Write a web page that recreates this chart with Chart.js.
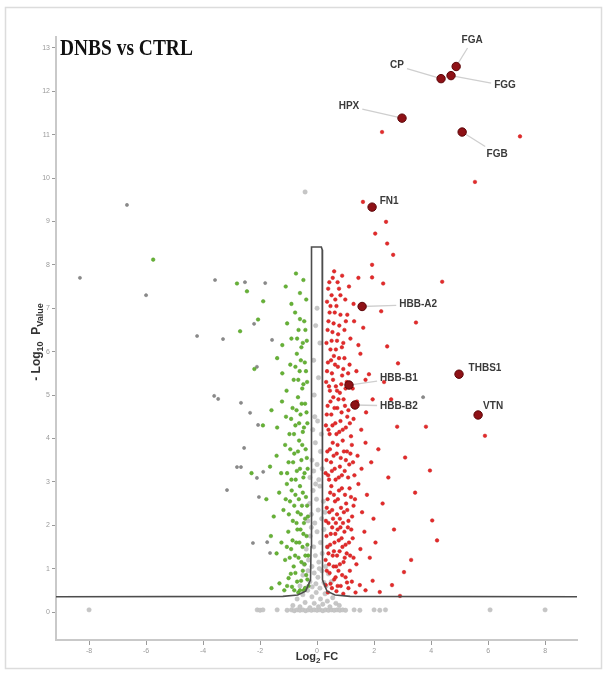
<!DOCTYPE html>
<html>
<head>
<meta charset="utf-8">
<script src="https://cdn.jsdelivr.net/npm/chart.js@4.4.1/dist/chart.umd.min.js"></script>
<style>
html,body{margin:0;padding:0;background:#fff;}
canvas{display:block;}
</style>
</head>
<body>
<canvas id="c" width="609" height="675"></canvas>
<script>
// ---------------- DATA ----------------
const chartTitle = 'DNBS vs CTRL';
const xTicks = [-8, -6, -4, -2, 0, 2, 4, 6, 8];
const yTicks = [0, 1, 2, 3, 4, 5, 6, 7, 8, 9, 10, 11, 12, 13];

// significance threshold curve (log2FC, -log10 p)
const thresholdCurve = [
  [-9.16,0.35],[-1.2,0.36],[-0.68,0.39],[-0.4,0.48],[-0.23,0.74],[-0.21,1.5],[-0.21,8.35],[-0.18,8.41],
  [0.15,8.41],[0.18,8.35],[0.18,1.5],[0.2,0.74],[0.35,0.48],[0.63,0.39],[1.16,0.36],[9.12,0.35]
];

// highlighted proteins
const labeledGenes = ['FGA','FGG','CP','HPX','FGB','FN1','HBB-A2','THBS1','HBB-B1','HBB-B2','VTN'];
const labeledX = [4.88, 4.70, 4.35, 2.98, 5.09, 1.93, 1.58, 4.98, 1.12, 1.33, 5.65];
const labeledY = [12.57, 12.36, 12.29, 11.38, 11.06, 9.33, 7.04, 5.48, 5.23, 4.77, 4.54];

// up-regulated (red)
const upPoints = [
 [0.30,0.62],[0.38,0.45],[0.44,0.9],[0.52,0.55],[0.6,0.75],[0.68,0.48],[0.75,0.95],[0.83,0.6],[0.92,0.42],[1.0,0.8],[1.1,0.55],[1.22,0.7],[1.35,0.45],[1.5,0.62],[1.7,0.5],[1.95,0.72],[2.2,0.46],
 [0.3,1.2],[0.36,1.5],[0.42,1.1],[0.48,1.8],[0.55,1.3],[0.61,1.6],[0.67,1.05],[0.72,1.9],[0.79,1.4],[0.86,1.7],[0.93,1.15],[1.0,1.55],[1.08,1.95],[1.16,1.3],[1.25,1.7],[1.38,1.1],[1.52,1.45],[1.66,1.85],[1.85,1.25],[2.05,1.6],
 [0.31,2.1],[0.37,2.6],[0.43,2.3],[0.5,2.9],[0.56,2.15],[0.63,2.55],[0.7,2.25],[0.77,2.8],[0.84,2.4],[0.91,2.05],[0.98,2.7],[1.06,2.35],[1.14,2.85],[1.23,2.2],[1.33,2.6],[1.45,2.95],[1.58,2.3],[1.75,2.7],[1.98,2.15],[2.3,2.5],
 [0.3,3.2],[0.36,3.7],[0.42,3.05],[0.49,3.45],[0.55,3.9],[0.62,3.3],[0.69,3.65],[0.76,3.1],[0.83,3.55],[0.9,3.95],[0.97,3.25],[1.05,3.7],[1.13,3.4],[1.22,3.85],[1.31,3.15],[1.42,3.6],[1.56,3.3],[1.7,3.9],[1.9,3.45],[2.15,3.75],
 [0.31,4.3],[0.37,4.75],[0.44,4.1],[0.5,4.55],[0.57,4.95],[0.64,4.35],[0.71,4.7],[0.78,4.15],[0.86,4.6],[0.93,4.9],[1.01,4.25],[1.1,4.65],[1.19,4.05],[1.28,4.45],[1.4,4.85],[1.55,4.2],[1.72,4.6],[1.95,4.9],
 [0.32,5.3],[0.38,5.75],[0.45,5.1],[0.52,5.5],[0.59,5.9],[0.66,5.2],[0.73,5.65],[0.8,5.05],[0.88,5.45],[0.96,5.85],[1.04,5.3],[1.14,5.7],[1.25,5.15],[1.38,5.55],[1.52,5.95],[1.7,5.35],
 [0.33,6.2],[0.4,6.7],[0.47,6.05],[0.54,6.45],[0.62,6.9],[0.7,6.25],[0.78,6.6],[0.87,6.1],[0.96,6.5],[1.06,6.85],[1.17,6.3],[1.3,6.7],[1.45,6.15],[1.62,6.55],
 [0.35,7.15],[0.43,7.6],[0.51,7.3],[0.6,7.85],[0.68,7.05],[0.77,7.45],[0.88,7.75],[0.99,7.2],[1.12,7.5],[1.28,7.1],[1.45,7.7],
 [0.34,0.95],[0.47,0.65],[0.58,1.05],[0.65,0.8],[0.72,0.6],[0.8,1.1],[0.88,0.85],[0.97,1.25],[1.05,0.68],[1.15,0.95],[1.28,1.25],
 [0.33,1.75],[0.4,1.35],[0.46,1.55],[0.53,1.95],[0.59,1.4],[0.64,1.8],[0.7,1.3],[0.76,1.65],[0.82,1.95],[0.89,1.5],[0.96,1.85],[1.04,1.35],[1.12,1.6],[1.2,1.9],
 [0.34,2.4],[0.4,2.05],[0.46,2.75],[0.53,2.35],[0.59,2.7],[0.66,2.05],[0.73,2.6],[0.8,2.15],[0.87,2.85],[0.94,2.3],[1.02,2.5],[1.1,2.1],[1.19,2.65],[1.28,2.45],
 [0.33,3.5],[0.39,3.15],[0.45,3.75],[0.52,3.25],[0.58,3.6],[0.65,3.05],[0.72,3.85],[0.8,3.35],[0.87,3.15],[0.94,3.7],[1.01,3.5],[1.09,3.1],[1.17,3.65],[1.26,3.45],
 [0.34,4.55],[0.4,4.2],[0.47,4.85],[0.54,4.3],[0.61,4.7],[0.68,4.1],[0.75,4.9],[0.82,4.4],[0.9,4.2],[0.98,4.75],[1.06,4.5],[1.15,4.35],
 [0.35,5.55],[0.42,5.2],[0.49,5.8],[0.56,5.35],[0.63,5.7],[0.7,5.1],[0.77,5.85],[0.85,5.25],[0.92,5.6],[1.0,5.15],[1.09,5.5],
 [0.37,6.5],[0.44,6.9],[0.51,6.25],[0.58,6.65],[0.66,6.05],[0.74,6.4],[0.82,6.85],[0.92,6.2],[1.01,6.7],
 [0.39,7.45],[0.47,7.05],[0.55,7.7],[0.64,7.2],[0.72,7.6],[0.82,7.3],
 [2.28,11.06],[7.12,10.96],[5.54,9.91],[1.61,9.45],[2.42,8.99],[2.04,8.72],[2.46,8.49],[2.67,8.23],[1.93,8.0],[1.93,7.71],[2.32,7.57],[4.39,7.61],
 [3.47,6.67],[2.46,6.12],[2.84,5.73],[1.82,5.48],[2.81,4.27],[3.82,4.27],[3.09,3.56],[3.96,3.26],[3.44,2.75],[4.04,2.11],[4.21,1.65],
 [3.05,0.92],[2.63,0.62],[2.91,0.37],[5.89,4.06],[2.25,6.93],[2.6,4.9],[2.5,3.1],[2.7,1.9],[3.3,1.2],[2.35,5.3]
];

// down-regulated (green)
const downPoints = [
 [-0.3,0.6],[-0.38,0.85],[-0.47,0.5],[-0.56,0.72],[-0.66,0.45],[-0.76,0.9],[-0.88,0.58],[-1.0,0.78],[-1.15,0.5],[-1.32,0.66],[-1.6,0.55],
 [-0.31,1.3],[-0.37,1.75],[-0.44,1.1],[-0.51,1.5],[-0.58,1.9],[-0.65,1.25],[-0.73,1.6],[-0.82,1.05],[-0.91,1.45],[-1.01,1.85],[-1.12,1.2],[-1.25,1.6],[-1.42,1.35],[-1.62,1.75],
 [-0.32,2.2],[-0.39,2.65],[-0.46,2.05],[-0.53,2.45],[-0.6,2.9],[-0.68,2.3],[-0.76,2.7],[-0.85,2.1],[-0.95,2.55],[-1.06,2.95],[-1.18,2.35],[-1.33,2.75],[-1.52,2.2],[-1.78,2.6],
 [-0.33,3.3],[-0.4,3.75],[-0.48,3.1],[-0.55,3.5],[-0.63,3.95],[-0.71,3.25],[-0.8,3.65],[-0.9,3.05],[-1.0,3.45],[-1.12,3.85],[-1.26,3.2],[-1.42,3.6],[-1.65,3.35],
 [-0.34,4.35],[-0.42,4.8],[-0.5,4.15],[-0.58,4.55],[-0.67,4.95],[-0.76,4.3],[-0.86,4.7],[-0.97,4.1],[-1.09,4.5],[-1.23,4.85],[-1.4,4.25],[-1.6,4.65],
 [-0.35,5.3],[-0.43,5.75],[-0.52,5.15],[-0.61,5.55],[-0.71,5.95],[-0.82,5.35],[-0.94,5.7],[-1.07,5.1],[-1.22,5.5],[-1.4,5.85],
 [-0.36,6.25],[-0.45,6.7],[-0.55,6.1],[-0.65,6.5],[-0.77,6.9],[-0.9,6.3],[-1.05,6.65],[-1.22,6.15],
 [-0.38,7.2],[-0.48,7.65],[-0.6,7.35],[-0.74,7.8],[-0.9,7.1],[-1.1,7.5],
 [-0.34,0.75],[-0.42,0.55],[-0.5,0.95],[-0.6,0.5],[-0.7,0.7],[-0.8,0.5],[-0.92,0.88],[-1.05,0.6],
 [-0.34,1.55],[-0.41,1.3],[-0.48,1.8],[-0.55,1.15],[-0.62,1.6],[-0.69,1.9],[-0.77,1.3],[-0.86,1.65],[-0.96,1.25],[-1.06,1.5],
 [-0.35,2.45],[-0.42,2.15],[-0.5,2.75],[-0.57,2.25],[-0.64,2.6],[-0.72,2.05],[-0.8,2.45],[-0.89,2.8],[-0.99,2.25],[-1.1,2.6],
 [-0.36,3.55],[-0.44,3.2],[-0.52,3.85],[-0.6,3.3],[-0.67,3.7],[-0.75,3.05],[-0.84,3.45],[-0.94,3.75],[-1.05,3.2],
 [-0.37,4.6],[-0.46,4.25],[-0.54,4.8],[-0.63,4.35],[-0.72,4.65],[-0.81,4.1],[-0.91,4.45],
 [-0.39,5.55],[-0.48,5.25],[-0.57,5.8],[-0.66,5.35],[-0.76,5.65],
 [-0.41,6.5],[-0.5,6.2],[-0.6,6.75],[-0.7,6.3],
 [-5.75,8.12],[-2.81,7.57],[-2.46,7.39],[-1.89,7.16],[-2.07,6.74],[-2.7,6.47],[-2.2,5.6],[-1.9,4.3],[-2.3,3.2]
];

// scattered non-coloured outliers (dark grey)
const otherPoints = [
 [-2.53,7.60],[-1.82,7.58],[-2.21,6.64],[-1.58,6.27],[-3.30,6.29],[-2.11,5.65],[-2.67,4.82],[-2.35,4.59],[-2.07,4.31],[-2.56,3.78],
 [-2.81,3.34],[-2.67,3.34],[-1.89,3.23],[-2.11,3.09],[-3.16,2.81],[-2.04,2.65],[-2.25,1.59],[-1.75,1.61],[-1.65,1.36],
 [-6.67,9.38],[-8.32,7.70],[-6.0,7.30],[-3.58,7.65],[-4.21,6.36],[-3.47,4.91],[-3.61,4.98],[3.72,4.95]
];

// non-significant cloud (light grey)
const nsPoints = [
 [-8.0,0.05],[-2.1,0.05],[-2.0,0.04],[-1.9,0.05],[-1.4,0.05],[-1.05,0.04],[-0.9,0.05],[-0.8,0.03],[-0.7,0.05],[-0.6,0.04],[-0.5,0.05],[-0.4,0.03],[-0.3,0.05],[-0.2,0.04],[-0.1,0.05],[0,0.04],[0.1,0.05],[0.2,0.03],[0.3,0.05],[0.4,0.04],[0.5,0.05],[0.6,0.04],[0.7,0.05],[0.8,0.04],[0.9,0.05],[1.0,0.04],[1.3,0.05],[1.5,0.04],[2.0,0.05],[2.2,0.04],[2.4,0.05],[6.07,0.05],[8.0,0.05],
 [-0.85,0.15],[-0.7,0.3],[-0.6,0.12],[-0.5,0.4],[-0.42,0.22],[-0.33,0.5],[-0.25,0.1],[-0.18,0.35],[-0.1,0.2],[-0.03,0.45],[0.05,0.12],[0.12,0.3],[0.2,0.18],[0.28,0.42],[0.36,0.25],[0.45,0.12],[0.55,0.33],[0.66,0.2],[0.78,0.15],
 [-0.6,0.6],[-0.5,0.85],[-0.4,0.55],[-0.32,0.95],[-0.25,0.7],[-0.17,0.58],[-0.1,0.9],[-0.04,0.65],[0.03,0.8],[0.1,0.55],[0.17,0.95],[0.24,0.68],[0.32,0.6],[0.4,0.88],[0.5,0.7],
 [-0.45,1.1],[-0.38,1.45],[-0.3,1.2],[-0.24,1.75],[-0.18,1.05],[-0.12,1.5],[-0.06,1.3],[0.0,1.85],[0.06,1.15],[0.12,1.6],[0.18,1.35],[0.24,1.9],[0.3,1.05],[0.36,1.5],[-0.2,1.95],[0.08,1.0],
 [-0.32,2.1],[-0.26,2.5],[-0.2,2.25],[-0.14,2.8],[-0.08,2.05],[-0.02,2.6],[0.04,2.35],[0.1,2.9],[0.16,2.15],[0.22,2.55],[0.28,2.3],[-0.05,2.95],
 [-0.25,3.1],[-0.18,3.5],[-0.12,3.25],[-0.06,3.9],[0.0,3.4],[0.06,3.05],[0.12,3.7],[0.18,3.3],[-0.15,4.2],[0.02,4.4],[0.15,4.1],[-0.08,4.5],
 [-0.1,5.0],[0.05,5.4],[-0.12,5.8],[0.1,6.2],[-0.05,6.6],[0.0,7.0],
 [-0.42,9.68]
];

// ---------------- STYLE ----------------
// label text offsets from their point, in pixels [dx, dy]
const labelOffsets = [[16,-26],[54,10],[-44,-13],[-53,-12],[35,22],[17,-6],[56,-2],[26,-6],[50,-7],[44,1],[15,-9]];

const toXY = arr => arr.map(p => ({x: p[0], y: p[1]}));

const framePlugin = {
  id: 'frame',
  beforeDraw(chart) {
    const ctx = chart.ctx;
    ctx.save();
    ctx.fillStyle = '#fff';
    ctx.fillRect(0, 0, chart.width, chart.height);
    ctx.strokeStyle = '#dcdcdc';
    ctx.lineWidth = 1.5;
    ctx.strokeRect(5.5, 7.5, 596, 661);
    ctx.restore();
  }
};

function textBoxEnd(px, py, cx, cy, w, h) {
  const dx = cx - px, dy = cy - py;
  const rx = Math.abs(dx) > 0.001 ? (w / 2 + 3) / Math.abs(dx) : Infinity;
  const ry = Math.abs(dy) > 0.001 ? (h / 2 + 3) / Math.abs(dy) : Infinity;
  const s = Math.max(0, 1 - Math.min(rx, ry));
  return [px + dx * s, py + dy * s, Math.hypot(dx * s, dy * s)];
}

const labelPlugin = {
  id: 'geneLabels',
  beforeDatasetsDraw(chart) {
    const meta = chart.getDatasetMeta(1);
    const ctx = chart.ctx;
    ctx.save();
    ctx.font = 'bold 10px "Liberation Sans", Arial, sans-serif';
    ctx.strokeStyle = '#cfcfcf';
    ctx.lineWidth = 1.3;
    meta.data.forEach((el, i) => {
      const off = labelOffsets[i];
      const cx = el.x + off[0], cy = el.y + off[1];
      const w = ctx.measureText(labeledGenes[i]).width;
      const [ex, ey, len] = textBoxEnd(el.x, el.y, cx, cy, w, 9);
      if (len > 8) {
        ctx.beginPath();
        ctx.moveTo(el.x, el.y);
        ctx.lineTo(ex, ey);
        ctx.stroke();
      }
    });
    ctx.restore();
  },
  afterDatasetsDraw(chart) {
    const meta = chart.getDatasetMeta(1);
    const ctx = chart.ctx;
    ctx.save();
    ctx.font = 'bold 10px "Liberation Sans", Arial, sans-serif';
    ctx.fillStyle = '#3a3a3a';
    ctx.textAlign = 'center';
    ctx.textBaseline = 'middle';
    meta.data.forEach((el, i) => {
      const off = labelOffsets[i];
      ctx.fillText(labeledGenes[i], el.x + off[0], el.y + off[1]);
    });
    ctx.restore();
  }
};

function drawRich(ctx, parts, big, small, color) {
  let total = 0;
  parts.forEach(p => { ctx.font = 'bold ' + (p.sub ? small : big) + 'px "Liberation Sans", Arial, sans-serif'; p.w = ctx.measureText(p.t).width; total += p.w; });
  let x = -total / 2;
  ctx.fillStyle = color;
  ctx.textBaseline = 'alphabetic';
  ctx.textAlign = 'left';
  parts.forEach(p => {
    ctx.font = 'bold ' + (p.sub ? small : big) + 'px "Liberation Sans", Arial, sans-serif';
    ctx.fillText(p.t, x, p.sub ? 3 : 0);
    x += p.w;
  });
}

const textPlugin = {
  id: 'texts',
  afterDraw(chart) {
    const ctx = chart.ctx;
    // title
    ctx.save();
    ctx.translate(60, 55);
    ctx.scale(0.81, 1);
    ctx.font = 'bold 24px "Liberation Serif", "DejaVu Serif", serif';
    ctx.fillStyle = '#111';
    ctx.textBaseline = 'alphabetic';
    ctx.fillText(chartTitle, 0, 0);
    ctx.restore();
    // y axis title
    ctx.save();
    ctx.translate(40, 342);
    ctx.rotate(-Math.PI / 2);
    drawRich(ctx, [{t:'- Log'},{t:'10',sub:true},{t:'  P'},{t:'Value',sub:true}], 12, 9, '#333');
    ctx.restore();
    // x axis title
    ctx.save();
    ctx.translate(317, 660);
    drawRich(ctx, [{t:'Log'},{t:'2',sub:true},{t:' FC'}], 11, 8, '#333');
    ctx.restore();
  }
};

new Chart(document.getElementById('c'), {
  type: 'scatter',
  data: {
    datasets: [
      { label: 'threshold', data: toXY(thresholdCurve), showLine: true, borderColor: '#4d4d4d', borderWidth: 1.6, pointRadius: 0, fill: false, tension: 0, order: 0 },
      { label: 'highlighted', data: labeledX.map((x, i) => ({x, y: labeledY[i]})), backgroundColor: '#8e1116', borderColor: '#5c0508', borderWidth: 1, pointRadius: 4.2, order: 1 },
      { label: 'up', data: toXY(upPoints), backgroundColor: '#e42a2a', borderColor: '#c81a1a', borderWidth: 0.5, pointRadius: 1.8, order: 2 },
      { label: 'down', data: toXY(downPoints), backgroundColor: '#67b236', borderColor: '#4f9a22', borderWidth: 0.5, pointRadius: 1.8, order: 3 },
      { label: 'other', data: toXY(otherPoints), backgroundColor: '#8a8a8a', borderColor: '#7a7a7a', borderWidth: 0.5, pointRadius: 1.6, order: 4 },
      { label: 'ns', data: toXY(nsPoints), backgroundColor: '#c6c6c6', borderColor: '#bdbdbd', borderWidth: 0.5, pointRadius: 2.2, order: 5 }
    ]
  },
  options: {
    responsive: false,
    animation: false,
    events: [],
    layout: { padding: { left: 0, right: 32, top: 37, bottom: 0 }, autoPadding: false },
    plugins: { legend: { display: false }, tooltip: { enabled: false }, title: { display: false } },
    scales: {
      x: {
        type: 'linear', min: -9.16, max: 9.12,
        afterBuildTicks: s => { s.ticks = xTicks.map(v => ({ value: v })); },
        afterFit: s => { s.height = 35; },
        ticks: { color: '#9a9a9a', font: { size: 7 }, padding: 2, maxRotation: 0, autoSkip: false },
        grid: { drawOnChartArea: false, tickLength: 5, color: '#9a9a9a', lineWidth: 1 },
        border: { color: '#c9c9c9', width: 2 }
      },
      y: {
        type: 'linear', min: -0.645, max: 13.25,
        afterBuildTicks: s => { s.ticks = yTicks.map(v => ({ value: v })); },
        afterFit: s => { s.width = 56; },
        ticks: { color: '#9a9a9a', font: { size: 7 }, padding: 2, autoSkip: false },
        grid: { drawOnChartArea: false, tickLength: 4, color: '#9a9a9a', lineWidth: 1 },
        border: { color: '#c9c9c9', width: 2 }
      }
    }
  },
  plugins: [framePlugin, labelPlugin, textPlugin]
});
</script>
</body>
</html>
